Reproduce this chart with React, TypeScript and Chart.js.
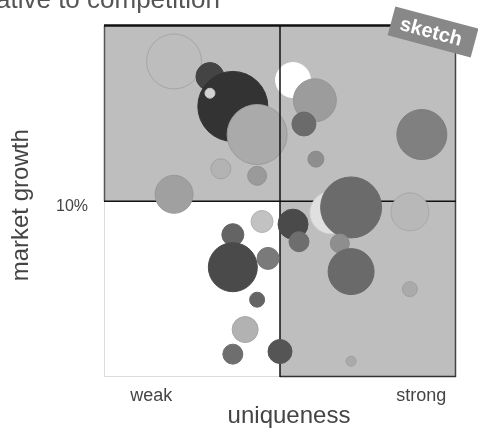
import React, { useEffect, useRef } from 'react';
import { Chart, registerables } from 'chart.js';

Chart.register(...registerables);

// Products positioned by uniqueness (x, 0–100) and market growth (y, %), bubble radius = size
const uniqueness = [19.9, 30.1, 36.6, 30.1, 43.5, 33.2, 43.5, 19.9, 53.7, 59.9, 56.8, 60.2, 90.3, 64.5, 70.2, 86.9, 44.9, 36.6, 36.6, 46.6, 43.5, 40.1, 36.6, 50.0, 53.7, 55.4, 67.0, 70.2, 86.9, 70.2];
const growth = [17.96, 17.1, 15.4, 16.15, 13.8, 11.85, 11.45, 10.4, 16.9, 15.75, 14.4, 12.4, 13.8, 9.35, 9.65, 9.4, 8.85, 8.1, 6.25, 6.75, 4.4, 2.7, 1.3, 1.45, 8.7, 7.7, 7.6, 6.0, 5.0, 0.9];
const size = [27.5, 14, 35, 5, 30, 10, 9.5, 19, 17.5, 21.5, 12, 8, 25, 21, 30.5, 19, 11, 11, 24.5, 11, 7.5, 13, 10, 12, 15, 10, 9.5, 23, 7.5, 5];

const xTickValues = [13.4, 90.1];
const xTickLabels = ['weak', 'strong'];
const yTickValues = [10];
const yTickLabels = ['10%'];

const X_MIN = 0;
const X_MAX = 100;
const X_SPLIT = 50;
const Y_MIN = 0;
const Y_MAX = 20;
const Y_SPLIT = 10;

const titleText = 'Market position relative to competition';
const xTitle = 'uniqueness';
const yTitle = 'market growth';
const badgeText = 'sketch';

// bubble shading, one entry per product
const fills = ['#bdbdbd', '#444444', '#333333', '#d2d2d2', '#aaaaaa', '#b3b3b3', '#9a9a9a', '#a0a0a0', '#ffffff', '#9c9c9c', '#6b6b6b', '#8e8e8e', '#808080', '#e0e0e0', '#6b6b6b', '#b8b8b8', '#c2c2c2', '#646464', '#4a4a4a', '#7a7a7a', '#646464', '#b2b2b2', '#6e6e6e', '#555555', '#4a4a4a', '#6e6e6e', '#8e8e8e', '#6a6a6a', '#aaaaaa', '#aaaaaa'];
const outlines = ['#a6a6a6', '#444444', '#333333', '#c4c4c4', '#9c9c9c', '#a2a2a2', '#939393', '#999999', '#ffffff', '#969696', '#6b6b6b', '#8a8a8a', '#7c7c7c', '#d6d6d6', '#6b6b6b', '#a8a8a8', '#b2b2b2', '#646464', '#4a4a4a', '#777777', '#646464', '#a6a6a6', '#6e6e6e', '#555555', '#4a4a4a', '#6e6e6e', '#8a8a8a', '#6a6a6a', '#a0a0a0', '#a0a0a0'];

const FONT = "'Liberation Sans', Arial, Helvetica, sans-serif";

function strokeLine(ctx: CanvasRenderingContext2D, x1: number, y1: number, x2: number, y2: number, c: string, w: number) {
  ctx.beginPath();
  ctx.strokeStyle = c;
  ctx.lineWidth = w;
  ctx.moveTo(x1, y1);
  ctx.lineTo(x2, y2);
  ctx.stroke();
}

function quadrantEdges(chart: any) {
  const { x, y } = chart.scales;
  return {
    xl: x.getPixelForValue(X_MIN),
    xm: x.getPixelForValue(X_SPLIT),
    xr: x.getPixelForValue(X_MAX),
    yt: y.getPixelForValue(Y_MAX),
    ym: y.getPixelForValue(Y_SPLIT),
    yb: y.getPixelForValue(Y_MIN),
  };
}

const quadrants = {
  id: 'quadrants',
  beforeDatasetsDraw(chart: any) {
    const ctx = chart.ctx;
    const { xl, xm, xr, yt, ym, yb } = quadrantEdges(chart);
    ctx.save();
    ctx.fillStyle = '#bebebe';
    ctx.fillRect(xl, yt, xm - xl, ym - yt);
    ctx.fillRect(xm, yt, xr - xm, ym - yt);
    ctx.fillRect(xm, ym, xr - xm, yb - ym);

    // low-growth / weak corner keeps a faint outline only
    strokeLine(ctx, xl + 0.5, ym, xl + 0.5, yb - 0.5, '#dcdcdc', 1);
    strokeLine(ctx, xl, yb - 0.5, xm, yb - 0.5, '#dcdcdc', 1);
    strokeLine(ctx, xl + 0.5, yt, xl + 0.5, ym, '#555555', 1.5);
    strokeLine(ctx, xr - 0.5, yt, xr - 0.5, yb, '#444444', 1.5);
    strokeLine(ctx, xm, yb - 0.5, xr, yb - 0.5, '#333333', 1.5);
    strokeLine(ctx, xm, ym, xm, yb, '#111111', 1.5);
    strokeLine(ctx, xl, ym, xr, ym, '#111111', 1.5);
    ctx.restore();
  },
  afterDatasetsDraw(chart: any) {
    const ctx = chart.ctx;
    const { xl, xm, xr, yt, ym } = quadrantEdges(chart);
    ctx.save();
    // upper divider and top edge sit above the bubbles
    strokeLine(ctx, xm, yt, xm, ym, '#111111', 1.5);
    strokeLine(ctx, xl, yt, xr, yt, '#111111', 2.5);
    ctx.restore();
  },
};

const annotations = {
  id: 'annotations',
  afterDraw(chart: any) {
    const { ctx, chartArea } = chart;
    ctx.save();
    // chart title
    ctx.fillStyle = '#555555';
    ctx.font = `26px ${FONT}`;
    ctx.textAlign = 'right';
    ctx.textBaseline = 'alphabetic';
    ctx.fillText(titleText, 220, 8);

    // axis titles
    ctx.fillStyle = '#444444';
    ctx.font = `24px ${FONT}`;
    ctx.textAlign = 'center';
    ctx.fillText(xTitle, (chartArea.left + chartArea.right) / 2 + 9, 423);
    ctx.save();
    ctx.translate(28, (chartArea.top + chartArea.bottom) / 2 + 4);
    ctx.rotate(-Math.PI / 2);
    ctx.fillText(yTitle, 0, 0);
    ctx.restore();

    // badge
    ctx.save();
    ctx.translate(433, 32);
    ctx.rotate((15 * Math.PI) / 180);
    ctx.fillStyle = '#888888';
    ctx.fillRect(-43, -15, 86, 30);
    ctx.fillStyle = '#ffffff';
    ctx.font = `bold 20px ${FONT}`;
    ctx.textAlign = 'center';
    ctx.textBaseline = 'middle';
    ctx.fillText(badgeText, -2, 1);
    ctx.restore();
    ctx.restore();
  },
};

export default function App() {
  const canvasRef = useRef<HTMLCanvasElement | null>(null);

  useEffect(() => {
    const canvas = canvasRef.current;
    if (!canvas) return;
    const points = uniqueness.map((u, i) => ({ x: u, y: growth[i], r: size[i] }));
    const chart = new Chart(canvas, {
      type: 'bubble',
      data: {
        datasets: [
          {
            data: points,
            backgroundColor: fills,
            borderColor: outlines,
            borderWidth: 1,
            hoverBorderWidth: 1,
          },
        ],
      },
      options: {
        responsive: false,
        maintainAspectRatio: false,
        devicePixelRatio: 1,
        animation: false,
        events: [],
        layout: { autoPadding: false, padding: { top: 24, right: 22, left: 0, bottom: 0 } },
        plugins: {
          legend: { display: false },
          tooltip: { enabled: false },
          title: { display: false },
        },
        scales: {
          x: {
            type: 'linear',
            min: X_MIN,
            max: X_MAX,
            grid: { display: false, drawTicks: false },
            border: { display: false },
            afterBuildTicks: (s: any) => {
              s.ticks = xTickValues.map((v) => ({ value: v }));
            },
            afterFit: (s: any) => {
              s.height = 55;
            },
            ticks: {
              autoSkip: false,
              maxRotation: 0,
              padding: 8,
              color: '#444444',
              font: { family: FONT, size: 18 },
              callback: (_v: any, i: number) => xTickLabels[i],
            },
          },
          y: {
            type: 'linear',
            min: Y_MIN,
            max: Y_MAX,
            grid: { display: false, drawTicks: false },
            border: { display: false },
            afterBuildTicks: (s: any) => {
              s.ticks = yTickValues.map((v) => ({ value: v }));
            },
            afterFit: (s: any) => {
              s.width = 104;
            },
            ticks: {
              autoSkip: false,
              padding: 16,
              labelOffset: 5,
              color: '#444444',
              font: { family: FONT, size: 16 },
              callback: (_v: any, i: number) => yTickLabels[i],
            },
          },
        },
      },
      plugins: [quadrants, annotations],
    });
    return () => chart.destroy();
  }, []);

  return (
    <canvas
      ref={canvasRef}
      width={478}
      height={432}
      style={{ position: 'fixed', top: 0, left: 0, width: 478, height: 432, display: 'block' }}
    />
  );
}
